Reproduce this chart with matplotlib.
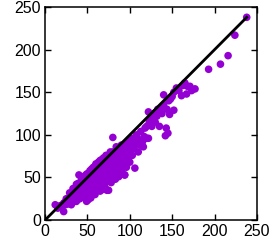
import matplotlib
matplotlib.use("Agg")
import matplotlib.pyplot as plt

points = [
    (15, 14), (18, 17), (20, 16), (22, 20), (24, 18), (25, 25), (26, 22), (27, 19), (28, 26), (29, 24),
    (30, 28), (30, 22), (31, 18), (32, 30), (33, 27), (34, 25), (35, 33), (35, 29), (36, 22), (37, 31),
    (38, 36), (38, 27), (39, 33), (40, 38), (40, 30), (40, 53), (41, 25), (42, 40), (42, 35), (43, 29),
    (44, 42), (44, 37), (45, 33), (45, 46), (46, 27), (46, 40), (47, 44), (47, 36), (48, 31), (48, 47),
    (49, 41), (49, 22), (50, 49), (50, 38), (50, 44), (51, 30), (51, 55), (52, 46), (52, 35), (53, 51),
    (53, 41), (54, 26), (54, 48), (55, 53), (55, 38), (55, 60), (56, 44), (56, 33), (57, 55), (57, 49),
    (58, 40), (58, 58), (59, 46), (59, 30), (60, 57), (60, 52), (60, 42), (60, 66), (61, 36), (61, 48),
    (62, 60), (62, 55), (62, 44), (63, 40), (63, 64), (64, 50), (64, 58), (65, 34), (65, 62), (65, 46),
    (65, 70), (66, 55), (66, 40), (67, 65), (67, 52), (68, 45), (68, 60), (68, 36), (69, 57), (69, 68),
    (70, 50), (70, 63), (70, 42), (70, 72), (71, 58), (71, 38), (72, 67), (72, 54), (73, 46), (73, 70),
    (74, 60), (74, 52), (75, 35), (75, 66), (75, 74), (76, 48), (76, 58), (77, 70), (77, 63), (78, 44),
    (78, 55), (79, 76), (79, 66), (80, 60), (80, 50), (80, 97), (80, 80), (81, 70), (82, 57), (82, 64),
    (83, 78), (83, 48), (84, 68), (85, 74), (85, 60), (85, 82), (86, 52), (86, 66), (87, 76), (88, 62),
    (88, 84), (89, 70), (90, 58), (90, 78), (90, 88), (91, 65), (92, 72), (93, 82), (94, 53), (94, 68),
    (95, 90), (95, 76), (96, 62), (97, 84), (98, 72), (99, 92), (100, 80), (100, 68), (100, 95),
    (41, 37), (43, 39), (45, 40), (47, 42), (49, 45), (51, 47), (53, 48), (55, 50), (57, 52), (59, 54),
    (61, 56), (63, 58), (65, 59), (67, 61), (69, 63), (71, 65), (73, 67), (75, 69), (77, 71), (79, 73),
    (81, 75), (83, 77), (85, 78), (87, 80), (89, 82), (91, 84), (93, 86), (95, 87), (44, 34), (48, 38),
    (52, 42), (56, 46), (60, 49), (64, 53), (68, 56), (72, 60), (76, 63), (80, 66), (84, 70), (88, 73),
    (92, 77), (96, 80), (46, 45), (50, 47), (54, 52), (58, 55), (62, 58), (66, 63), (70, 66), (74, 70),
    (78, 74), (82, 77), (86, 81), (36, 32), (34, 30), (32, 27), (30, 25), (28, 23), (26, 20), (24, 21),
    (38, 30), (42, 31), (46, 35), (50, 34), (54, 39), (58, 43), (62, 47), (66, 49), (70, 54), (74, 57),
    (78, 61), (82, 66), (86, 70), (90, 74), (94, 78), (98, 84),
    (33, 37), (37, 42), (43, 48), (47, 52), (53, 58), (57, 62), (63, 68), (67, 71), (72, 76), (77, 80),
    (29, 32), (39, 43), (49, 54), (59, 63), (69, 73), (84, 86),
    (102, 88), (103, 76), (104, 96), (105, 84), (106, 61), (107, 90), (108, 100), (110, 80), (110, 95),
    (112, 88), (113, 104), (115, 92), (116, 86), (117, 98), (118, 108), (120, 110), (120, 96), (122, 127),
    (122, 96), (123, 115), (125, 118), (126, 110), (127, 120), (128, 124), (130, 115), (130, 126),
    (132, 122), (133, 130), (135, 110), (135, 128), (137, 132), (138, 125), (140, 147), (140, 135),
    (142, 99), (143, 108), (144, 130), (145, 102), (146, 140), (147, 124), (148, 142), (150, 145),
    (152, 129), (152, 150), (155, 155), (158, 152), (161, 146), (163, 158), (165, 161), (167, 148),
    (168, 157), (171, 157), (173, 152), (177, 154), (193, 177), (207, 183), (216, 193), (224, 217),
    (238, 238),
    (12, 18), (22, 10), (37, 22), (51, 24), (73, 35), (87, 51), (94, 53),
]
actual = [p[0] for p in points]
predicted = [p[1] for p in points]

plt.rcParams["font.family"] = ["Liberation Sans", "DejaVu Sans"]

fig = plt.figure(figsize=(2.73, 2.44), dpi=100)
ax = fig.add_axes([0.165, 0.098, 0.776, 0.873])

ax.scatter(actual, predicted, s=30, color="#9400d3", edgecolors="none", zorder=2)
lim = max(actual)
ax.plot([0, lim], [0, lim], color="black", linewidth=2.0, zorder=3)

ax.set_xlim(0, 250)
ax.set_ylim(0, 250)
ticks = [0, 50, 100, 150, 200, 250]
ax.set_xticks(ticks)
ax.set_yticks(ticks)
ax.tick_params(direction="in", top=True, right=True, length=4, width=1,
               labelsize=11.5, pad=3)
for s in ax.spines.values():
    s.set_linewidth(1.1)

fig.savefig("out.png", dpi=100)
